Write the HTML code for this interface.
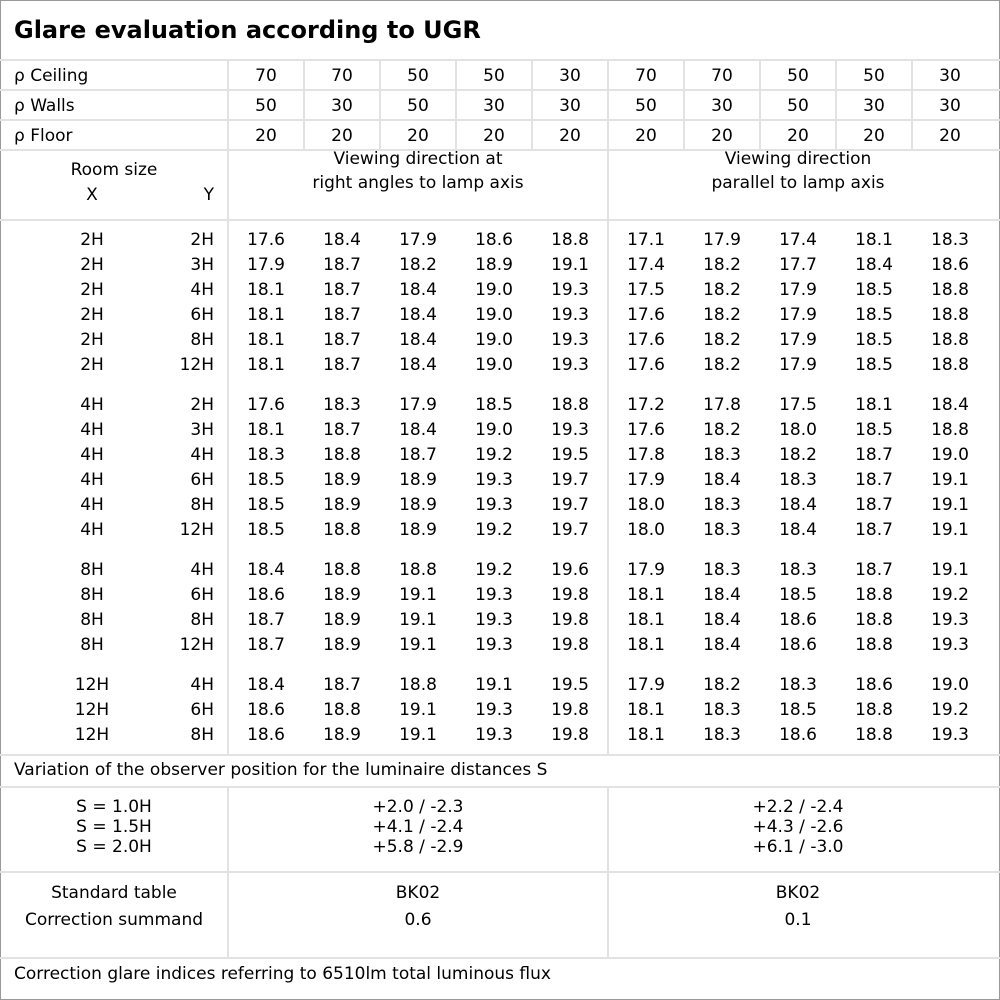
<!DOCTYPE html><html><head><meta charset="utf-8"><style>
body{margin:0;background:#fff}
#c{position:relative;width:1000px;height:1000px;overflow:hidden;font-family:"DejaVu Sans","Liberation Sans",sans-serif;font-size:17px;color:#000;background:#fff}
.h{position:absolute;height:2px;background:#e2e2e2}
.v{position:absolute;width:2px;background:#e2e2e2}
.r{position:absolute;left:0;width:1000px;height:25px;line-height:25px}
.r span{position:absolute;top:1px;text-align:center;width:76px}
.r .x{left:0;width:184px}
.r .y{left:130px;width:84px;text-align:right}
.t{position:absolute;line-height:30px;height:30px;left:0;width:1000px}
.t span{position:absolute;top:1px;text-align:center;width:76px}
.t .l{left:14px;text-align:left;width:200px}
.a{position:absolute;white-space:nowrap;margin-top:1px}
</style></head><body><div id="c">
<div style="position:absolute;left:0;top:0;width:998px;height:998px;border:1px solid #999"></div>
<div class="a" style="left:14px;top:12px;font-weight:bold;font-size:24px;line-height:34px">Glare evaluation according to UGR</div>
<div class="h" style="left:0;top:59px;width:1000px"></div>
<div class="h" style="left:0;top:89px;width:1000px"></div>
<div class="h" style="left:0;top:119px;width:1000px"></div>
<div class="h" style="left:0;top:149px;width:1000px"></div>
<div class="h" style="left:0;top:219px;width:1000px"></div>
<div class="h" style="left:0;top:754px;width:1000px"></div>
<div class="h" style="left:0;top:786px;width:1000px"></div>
<div class="h" style="left:0;top:871px;width:1000px"></div>
<div class="h" style="left:0;top:957px;width:1000px"></div>
<div class="v" style="left:227px;top:60px;height:695px"></div>
<div class="v" style="left:227px;top:787px;height:171px"></div>
<div class="v" style="left:607px;top:150px;height:605px"></div>
<div class="v" style="left:607px;top:787px;height:171px"></div>
<div class="v" style="left:303px;top:60px;height:90px"></div>
<div class="v" style="left:379px;top:60px;height:90px"></div>
<div class="v" style="left:455px;top:60px;height:90px"></div>
<div class="v" style="left:531px;top:60px;height:90px"></div>
<div class="v" style="left:607px;top:60px;height:90px"></div>
<div class="v" style="left:683px;top:60px;height:90px"></div>
<div class="v" style="left:759px;top:60px;height:90px"></div>
<div class="v" style="left:835px;top:60px;height:90px"></div>
<div class="v" style="left:911px;top:60px;height:90px"></div>

<div class="t" style="top:60px"><span class="l">ρ Ceiling</span><span style="left:228px">70</span><span style="left:304px">70</span><span style="left:380px">50</span><span style="left:456px">50</span><span style="left:532px">30</span><span style="left:608px">70</span><span style="left:684px">70</span><span style="left:760px">50</span><span style="left:836px">50</span><span style="left:912px">30</span></div>
<div class="t" style="top:90px"><span class="l">ρ Walls</span><span style="left:228px">50</span><span style="left:304px">30</span><span style="left:380px">50</span><span style="left:456px">30</span><span style="left:532px">30</span><span style="left:608px">50</span><span style="left:684px">30</span><span style="left:760px">50</span><span style="left:836px">30</span><span style="left:912px">30</span></div>
<div class="t" style="top:120px"><span class="l">ρ Floor</span><span style="left:228px">20</span><span style="left:304px">20</span><span style="left:380px">20</span><span style="left:456px">20</span><span style="left:532px">20</span><span style="left:608px">20</span><span style="left:684px">20</span><span style="left:760px">20</span><span style="left:836px">20</span><span style="left:912px">20</span></div>

<div class="a" style="left:0;width:228px;text-align:center;top:157px;line-height:24px">Room size</div>
<div class="a" style="left:0;width:184px;text-align:center;top:182px;line-height:24px">X</div>
<div class="a" style="left:130px;width:84px;text-align:right;top:182px;line-height:24px">Y</div>
<div class="a" style="left:228px;width:380px;text-align:center;top:146px;line-height:24px">Viewing direction at<br>right angles to lamp axis</div>
<div class="a" style="left:608px;width:380px;text-align:center;top:146px;line-height:24px">Viewing direction<br>parallel to lamp axis</div>

<div class="r" style="top:227px"><span class="x">2H</span><span class="y">2H</span><span style="left:228px">17.6</span><span style="left:304px">18.4</span><span style="left:380px">17.9</span><span style="left:456px">18.6</span><span style="left:532px">18.8</span><span style="left:608px">17.1</span><span style="left:684px">17.9</span><span style="left:760px">17.4</span><span style="left:836px">18.1</span><span style="left:912px">18.3</span></div>
<div class="r" style="top:252px"><span class="x">2H</span><span class="y">3H</span><span style="left:228px">17.9</span><span style="left:304px">18.7</span><span style="left:380px">18.2</span><span style="left:456px">18.9</span><span style="left:532px">19.1</span><span style="left:608px">17.4</span><span style="left:684px">18.2</span><span style="left:760px">17.7</span><span style="left:836px">18.4</span><span style="left:912px">18.6</span></div>
<div class="r" style="top:277px"><span class="x">2H</span><span class="y">4H</span><span style="left:228px">18.1</span><span style="left:304px">18.7</span><span style="left:380px">18.4</span><span style="left:456px">19.0</span><span style="left:532px">19.3</span><span style="left:608px">17.5</span><span style="left:684px">18.2</span><span style="left:760px">17.9</span><span style="left:836px">18.5</span><span style="left:912px">18.8</span></div>
<div class="r" style="top:302px"><span class="x">2H</span><span class="y">6H</span><span style="left:228px">18.1</span><span style="left:304px">18.7</span><span style="left:380px">18.4</span><span style="left:456px">19.0</span><span style="left:532px">19.3</span><span style="left:608px">17.6</span><span style="left:684px">18.2</span><span style="left:760px">17.9</span><span style="left:836px">18.5</span><span style="left:912px">18.8</span></div>
<div class="r" style="top:327px"><span class="x">2H</span><span class="y">8H</span><span style="left:228px">18.1</span><span style="left:304px">18.7</span><span style="left:380px">18.4</span><span style="left:456px">19.0</span><span style="left:532px">19.3</span><span style="left:608px">17.6</span><span style="left:684px">18.2</span><span style="left:760px">17.9</span><span style="left:836px">18.5</span><span style="left:912px">18.8</span></div>
<div class="r" style="top:352px"><span class="x">2H</span><span class="y">12H</span><span style="left:228px">18.1</span><span style="left:304px">18.7</span><span style="left:380px">18.4</span><span style="left:456px">19.0</span><span style="left:532px">19.3</span><span style="left:608px">17.6</span><span style="left:684px">18.2</span><span style="left:760px">17.9</span><span style="left:836px">18.5</span><span style="left:912px">18.8</span></div>

<div class="r" style="top:392px"><span class="x">4H</span><span class="y">2H</span><span style="left:228px">17.6</span><span style="left:304px">18.3</span><span style="left:380px">17.9</span><span style="left:456px">18.5</span><span style="left:532px">18.8</span><span style="left:608px">17.2</span><span style="left:684px">17.8</span><span style="left:760px">17.5</span><span style="left:836px">18.1</span><span style="left:912px">18.4</span></div>
<div class="r" style="top:417px"><span class="x">4H</span><span class="y">3H</span><span style="left:228px">18.1</span><span style="left:304px">18.7</span><span style="left:380px">18.4</span><span style="left:456px">19.0</span><span style="left:532px">19.3</span><span style="left:608px">17.6</span><span style="left:684px">18.2</span><span style="left:760px">18.0</span><span style="left:836px">18.5</span><span style="left:912px">18.8</span></div>
<div class="r" style="top:442px"><span class="x">4H</span><span class="y">4H</span><span style="left:228px">18.3</span><span style="left:304px">18.8</span><span style="left:380px">18.7</span><span style="left:456px">19.2</span><span style="left:532px">19.5</span><span style="left:608px">17.8</span><span style="left:684px">18.3</span><span style="left:760px">18.2</span><span style="left:836px">18.7</span><span style="left:912px">19.0</span></div>
<div class="r" style="top:467px"><span class="x">4H</span><span class="y">6H</span><span style="left:228px">18.5</span><span style="left:304px">18.9</span><span style="left:380px">18.9</span><span style="left:456px">19.3</span><span style="left:532px">19.7</span><span style="left:608px">17.9</span><span style="left:684px">18.4</span><span style="left:760px">18.3</span><span style="left:836px">18.7</span><span style="left:912px">19.1</span></div>
<div class="r" style="top:492px"><span class="x">4H</span><span class="y">8H</span><span style="left:228px">18.5</span><span style="left:304px">18.9</span><span style="left:380px">18.9</span><span style="left:456px">19.3</span><span style="left:532px">19.7</span><span style="left:608px">18.0</span><span style="left:684px">18.3</span><span style="left:760px">18.4</span><span style="left:836px">18.7</span><span style="left:912px">19.1</span></div>
<div class="r" style="top:517px"><span class="x">4H</span><span class="y">12H</span><span style="left:228px">18.5</span><span style="left:304px">18.8</span><span style="left:380px">18.9</span><span style="left:456px">19.2</span><span style="left:532px">19.7</span><span style="left:608px">18.0</span><span style="left:684px">18.3</span><span style="left:760px">18.4</span><span style="left:836px">18.7</span><span style="left:912px">19.1</span></div>

<div class="r" style="top:557px"><span class="x">8H</span><span class="y">4H</span><span style="left:228px">18.4</span><span style="left:304px">18.8</span><span style="left:380px">18.8</span><span style="left:456px">19.2</span><span style="left:532px">19.6</span><span style="left:608px">17.9</span><span style="left:684px">18.3</span><span style="left:760px">18.3</span><span style="left:836px">18.7</span><span style="left:912px">19.1</span></div>
<div class="r" style="top:582px"><span class="x">8H</span><span class="y">6H</span><span style="left:228px">18.6</span><span style="left:304px">18.9</span><span style="left:380px">19.1</span><span style="left:456px">19.3</span><span style="left:532px">19.8</span><span style="left:608px">18.1</span><span style="left:684px">18.4</span><span style="left:760px">18.5</span><span style="left:836px">18.8</span><span style="left:912px">19.2</span></div>
<div class="r" style="top:607px"><span class="x">8H</span><span class="y">8H</span><span style="left:228px">18.7</span><span style="left:304px">18.9</span><span style="left:380px">19.1</span><span style="left:456px">19.3</span><span style="left:532px">19.8</span><span style="left:608px">18.1</span><span style="left:684px">18.4</span><span style="left:760px">18.6</span><span style="left:836px">18.8</span><span style="left:912px">19.3</span></div>
<div class="r" style="top:632px"><span class="x">8H</span><span class="y">12H</span><span style="left:228px">18.7</span><span style="left:304px">18.9</span><span style="left:380px">19.1</span><span style="left:456px">19.3</span><span style="left:532px">19.8</span><span style="left:608px">18.1</span><span style="left:684px">18.4</span><span style="left:760px">18.6</span><span style="left:836px">18.8</span><span style="left:912px">19.3</span></div>

<div class="r" style="top:672px"><span class="x">12H</span><span class="y">4H</span><span style="left:228px">18.4</span><span style="left:304px">18.7</span><span style="left:380px">18.8</span><span style="left:456px">19.1</span><span style="left:532px">19.5</span><span style="left:608px">17.9</span><span style="left:684px">18.2</span><span style="left:760px">18.3</span><span style="left:836px">18.6</span><span style="left:912px">19.0</span></div>
<div class="r" style="top:697px"><span class="x">12H</span><span class="y">6H</span><span style="left:228px">18.6</span><span style="left:304px">18.8</span><span style="left:380px">19.1</span><span style="left:456px">19.3</span><span style="left:532px">19.8</span><span style="left:608px">18.1</span><span style="left:684px">18.3</span><span style="left:760px">18.5</span><span style="left:836px">18.8</span><span style="left:912px">19.2</span></div>
<div class="r" style="top:722px"><span class="x">12H</span><span class="y">8H</span><span style="left:228px">18.6</span><span style="left:304px">18.9</span><span style="left:380px">19.1</span><span style="left:456px">19.3</span><span style="left:532px">19.8</span><span style="left:608px">18.1</span><span style="left:684px">18.3</span><span style="left:760px">18.6</span><span style="left:836px">18.8</span><span style="left:912px">19.3</span></div>

<div class="a" style="left:14px;top:756px;line-height:26px">Variation of the observer position for the luminaire distances S</div>
<div class="a" style="left:0;width:228px;text-align:center;top:796px;line-height:20px">S = 1.0H<br>S = 1.5H<br>S = 2.0H</div>
<div class="a" style="left:228px;width:380px;text-align:center;top:796px;line-height:20px">+2.0 / -2.3<br>+4.1 / -2.4<br>+5.8 / -2.9</div>
<div class="a" style="left:608px;width:380px;text-align:center;top:796px;line-height:20px">+2.2 / -2.4<br>+4.3 / -2.6<br>+6.1 / -3.0</div>
<div class="a" style="left:0;width:228px;text-align:center;top:879px;line-height:27px">Standard table<br>Correction summand</div>
<div class="a" style="left:228px;width:380px;text-align:center;top:879px;line-height:27px">BK02<br>0.6</div>
<div class="a" style="left:608px;width:380px;text-align:center;top:879px;line-height:27px">BK02<br>0.1</div>
<div class="a" style="left:14px;top:960px;line-height:26px">Correction glare indices referring to 6510lm total luminous flux</div>
</div></body></html>
